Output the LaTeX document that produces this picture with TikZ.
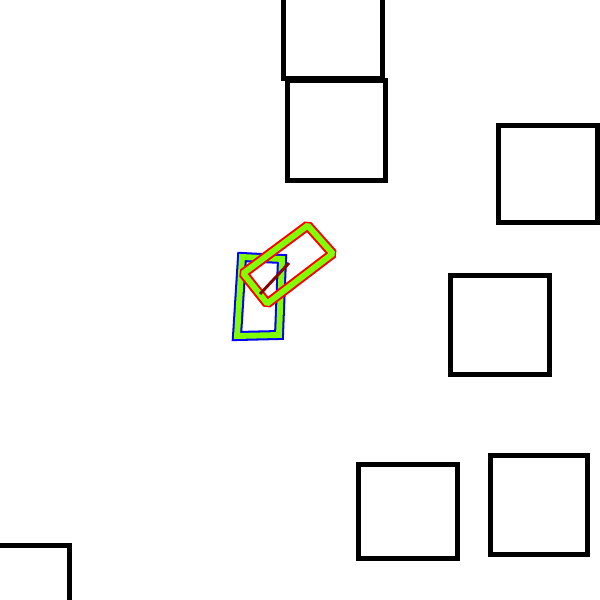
\documentclass[tikz,border=0pt]{standalone}
\definecolor{bandgreen}{RGB}{127,255,0}
\definecolor{darkline}{RGB}{139,0,0}
\tikzset{
  block/.style={draw=black, line width=3.56pt, line join=miter},
  outerblue/.style={draw=blue, line width=7.1pt, line join=miter},
  outerred/.style={draw=red, line width=7.1pt, line join=bevel},
  band/.style={draw=bandgreen, line width=4.2pt},
  heading/.style={draw=darkline, line width=2.1pt}
}
\begin{document}
\begin{tikzpicture}[x=0.025cm,y=-0.025cm]
\useasboundingbox (0,0) rectangle (600,600);
\clip (0,0) rectangle (600,600);
\fill[white] (0,0) rectangle (600,600);
% black squares
\draw[block] (283.5,-20) rectangle (382.5,78.5);
\draw[block] (287.5,80.8) rectangle (385.7,180.5);
\draw[block] (498.5,125.7) rectangle (597.5,222.5);
\draw[block] (450.7,275.5) rectangle (549.8,374.8);
\draw[block] (358.5,464) rectangle (457.5,558.5);
\draw[block] (490.8,455.8) rectangle (587.5,554.8);
\draw[block] (-10,545.5) -- (69.2,545.5) -- (69.2,610);
% blue-outlined rectangle
\draw[outerblue] (242,257) -- (282,259) -- (279,335) -- (237,336) -- cycle;
\draw[band, line join=miter] (242,257) -- (282,259) -- (279,335) -- (237,336) -- cycle;
% red-outlined rotated rectangle
\draw[outerred] (307.7,225.5) -- (332.7,253.6) -- (267.2,303.5) -- (243.2,273.4) -- cycle;
\draw[band, line join=bevel] (307.7,225.5) -- (332.7,253.6) -- (267.2,303.5) -- (243.2,273.4) -- cycle;
% heading line
\draw[heading] (289,263) -- (260,294);
\end{tikzpicture}
\end{document}
